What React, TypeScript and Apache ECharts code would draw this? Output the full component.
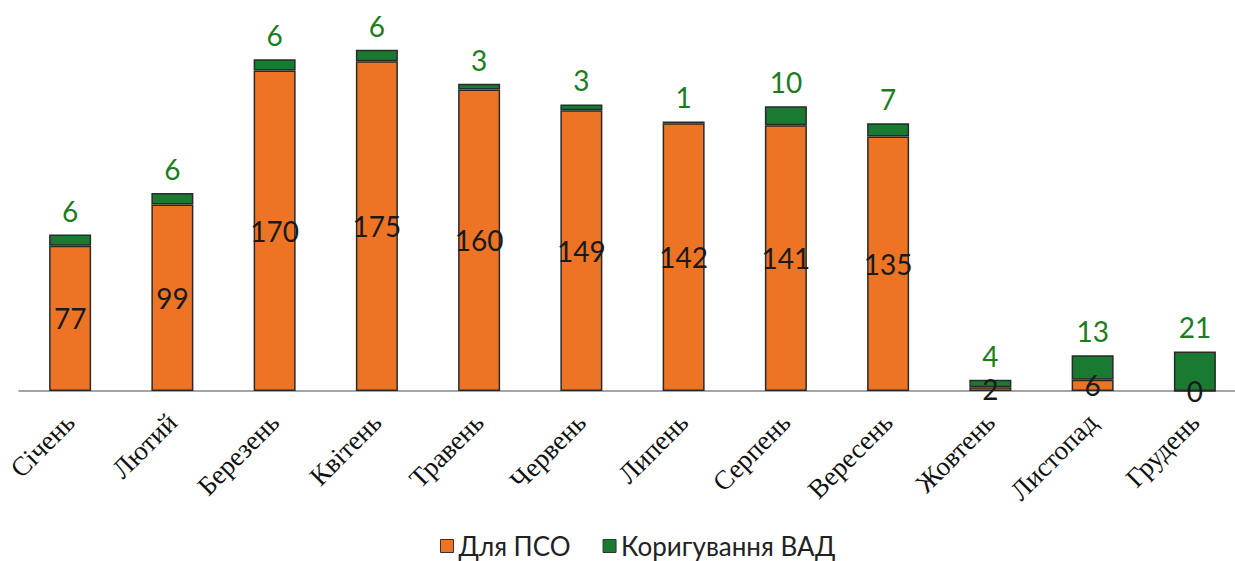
import React, { useEffect, useRef } from "react";
import * as echarts from "echarts";

const categories = ["Січень", "Лютий", "Березень", "Квітень", "Травень", "Червень", "Липень", "Серпень", "Вересень", "Жовтень", "Листопад", "Грудень"];
const psoValues = [77, 99, 170, 175, 160, 149, 142, 141, 135, 2, 6, 0];
const vadValues = [6, 6, 6, 6, 3, 3, 1, 10, 7, 4, 13, 21];
const seriesNames = ["Для ПСО", "Коригування ВАД"];

export default function App() {
  const ref = useRef<HTMLDivElement>(null);
  useEffect(() => {
    if (!ref.current) return;
    const chart = echarts.init(ref.current, null, { renderer: "svg" });
    chart.setOption({
      animation: false,
      backgroundColor: "#ffffff",
      grid: { left: 19, right: 0, top: 14, bottom: 170, containLabel: false },
      legend: {
        bottom: -3,
        left: 435,
        itemWidth: 13,
        itemHeight: 13,
        itemGap: 32,
        textStyle: { fontFamily: "Lato, 'Noto Sans', sans-serif", fontSize: 26, color: "#222" },
        data: [
          { name: seriesNames[0], icon: "rect", itemStyle: { color: "#EC7424", borderColor: "#333", borderWidth: 1 } },
          { name: seriesNames[1], icon: "rect", itemStyle: { color: "#1A7A32", borderColor: "#333", borderWidth: 1 } },
        ],
      },
      xAxis: {
        type: "category",
        data: categories,
        axisLine: { show: true, lineStyle: { color: "#888", width: 1.5 } },
        axisTick: { show: false },
        axisLabel: {
          rotate: 45,
          interval: 0,
          margin: 27,
          fontFamily: "'Liberation Serif', 'Times New Roman', serif",
          fontSize: 27,
          color: "#111",
        },
      },
      yAxis: {
        type: "value",
        min: 0,
        max: 200,
        show: false,
        splitLine: { show: false },
      },
      series: [
        {
          name: seriesNames[0],
          type: "bar",
          stack: "total",
          data: psoValues,
          barWidth: 42,
          itemStyle: { color: "#EC7424", borderColor: "#2a2a2a", borderWidth: 1.5 },
          label: {
            show: true,
            position: "inside",
            fontFamily: "Lato, 'Noto Sans', sans-serif",
            fontSize: 28,
            color: "#1a1a1a",
          },
        },
        {
          name: seriesNames[1],
          type: "bar",
          stack: "total",
          data: vadValues,
          barWidth: 42,
          itemStyle: { color: "#1A7A32", borderColor: "#2a2a2a", borderWidth: 1.5 },
          label: {
            show: true,
            position: "top",
            distance: 10,
            fontFamily: "Lato, 'Noto Sans', sans-serif",
            fontSize: 28,
            color: "#1B7D1B",
          },
        },
      ],
    });
    return () => chart.dispose();
  }, []);
  return (
    <div style={{ position: "absolute", left: 0, top: 0, width: 1235, height: 561, overflow: "hidden" }}>
      <div ref={ref} style={{ width: 1246, height: 561 }} />
    </div>
  );
}
